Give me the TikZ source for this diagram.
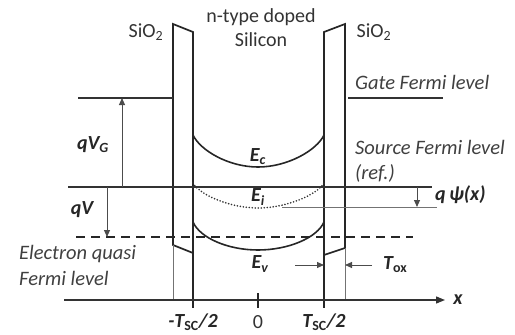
\documentclass[tikz,border=0pt]{standalone}
\usepackage{fontspec}
\setmainfont{Carlito}
\usetikzlibrary{arrows.meta}
\begin{document}
\begin{tikzpicture}[x=1pt,y=-1pt,
  txt/.style={text=black!80, font=\fontsize{20}{24}\selectfont, inner sep=0pt},
  itl/.style={text=black!75, font=\fontsize{20.5}{24}\selectfont\itshape, inner sep=0pt},
  lbl/.style={text=black!85, font=\fontsize{20}{24}\selectfont\bfseries\itshape, inner sep=0pt},
  wall/.style={line width=1.7pt, draw=black!85, line join=miter},
  thinl/.style={line width=1pt, black!55},
  level/.style={line width=1.6pt, black!80},
  band/.style={line width=1.6pt, black!85},
  arr/.style={-{Triangle[length=7pt,width=6pt]}, line width=1pt, black!70},
]
\useasboundingbox (0,0) rectangle (515,335);

% coordinates
\coordinate (axL) at (64,300);
\coordinate (axR) at (445,300);
% oxide walls
\draw[wall] (173,24) -- (193,32) -- (193,253) -- (173,245) -- cycle;
\draw[wall] (324,32) -- (345,24) -- (345,248) -- (324,255) -- cycle;
% extensions to axis
\draw[thinl] (173,245) -- (173,300);
\draw[thinl] (345,248) -- (345,300);
\draw[wall] (193,253) -- (193,308);
\draw[wall] (324,255) -- (324,308);
% axis
\draw[line width=1.3pt, black!80, -{Triangle[length=9pt,width=7pt]}] (axL) -- (axR);
\draw[line width=1.6pt, black!85] (258,293) -- (258,308);
\node[lbl] (xl) at (458,300) {x};
\node[lbl] (tm) at (193,322) {-T\textsubscript{\upshape SC}/2};
\node[txt] (t0) at (258,322) {0};
\node[lbl] (tp) at (324,322) {T\textsubscript{\upshape SC}/2};

% Gate Fermi level
\draw[level] (78,98) -- (173,98);
\draw[level] (348,98) -- (443,98);
% Source Fermi level
\draw[level] (68,187) -- (432,187);
% electron quasi Fermi level
\draw[line width=1.6pt, black!85, dash pattern=on 9pt off 6pt] (76,237) -- (413,237);

% bands
\draw[band] (193,135) .. controls (200,150) and (228,167) .. (258,167)
                      .. controls (288,167) and (317,150) .. (324,135);
\draw[line width=1.8pt, black!80, line cap=round, dash pattern=on 0pt off 3pt] (193,183) .. controls (200,195) and (230,208) .. (258,208)
                      .. controls (286,208) and (317,195) .. (324,183);
\draw[band] (193,222) .. controls (200,238) and (228,250) .. (258,250)
                      .. controls (288,250) and (317,238) .. (324,222);
\node[lbl] (Ec) at (258,157) {E\textsubscript{c}};
\node[lbl] (Ei) at (258,197) {E\textsubscript{i}};
\node[lbl] (Ev) at (260,264) {E\textsubscript{v}};

% E_i reference line and q psi arrow
\draw[thinl] (282,207) -- (437,207);
\coordinate (psiA) at (417,187);
\coordinate (psiB) at (417,207);
\draw[arr] (psiA) -- (psiB);
\node[lbl, anchor=west] (psi) at (435,195) {q\,ψ(x)};

% qV_G arrow
\coordinate (vgA) at (122,187);
\coordinate (vgB) at (122,98);
\draw[arr] (vgA) -- (vgB);
\node[lbl] (qvg) at (93,145) {qV\textsubscript{G}};
% qV arrow
\coordinate (vA) at (107,187);
\coordinate (vB) at (107,237);
\draw[arr] (vA) -- (vB);
\node[lbl] (qv) at (82,210) {qV};

% T_ox arrows
\coordinate (toxA) at (295,265);
\coordinate (toxB) at (324,265);
\coordinate (toxC) at (372,265);
\coordinate (toxD) at (345,265);
\draw[arr] (toxA) -- (toxB);
\draw[arr] (toxC) -- (toxD);
\node[lbl, anchor=west] (tox) at (383,265) {T\textsubscript{\upshape ox}};

% text labels
\node[txt] (sio2l) at (146,32) {SiO\textsubscript{2}};
\node[txt] (sio2r) at (374,32) {SiO\textsubscript{2}};
\node[txt] (ntype) at (261,17) {n-type doped};
\node[txt] (si) at (261,40) {Silicon};
\node[itl, anchor=west] (gate) at (355,82) {Gate Fermi level};
\node[itl, anchor=west] (src) at (355,147) {Source Fermi level};
\node[itl, anchor=west] (ref) at (355,173) {(ref.)};
\node[itl, anchor=west] (eq1) at (19,254) {Electron quasi};
\node[itl, anchor=west] (eq2) at (19,278) {Fermi level};
\end{tikzpicture}
\end{document}
